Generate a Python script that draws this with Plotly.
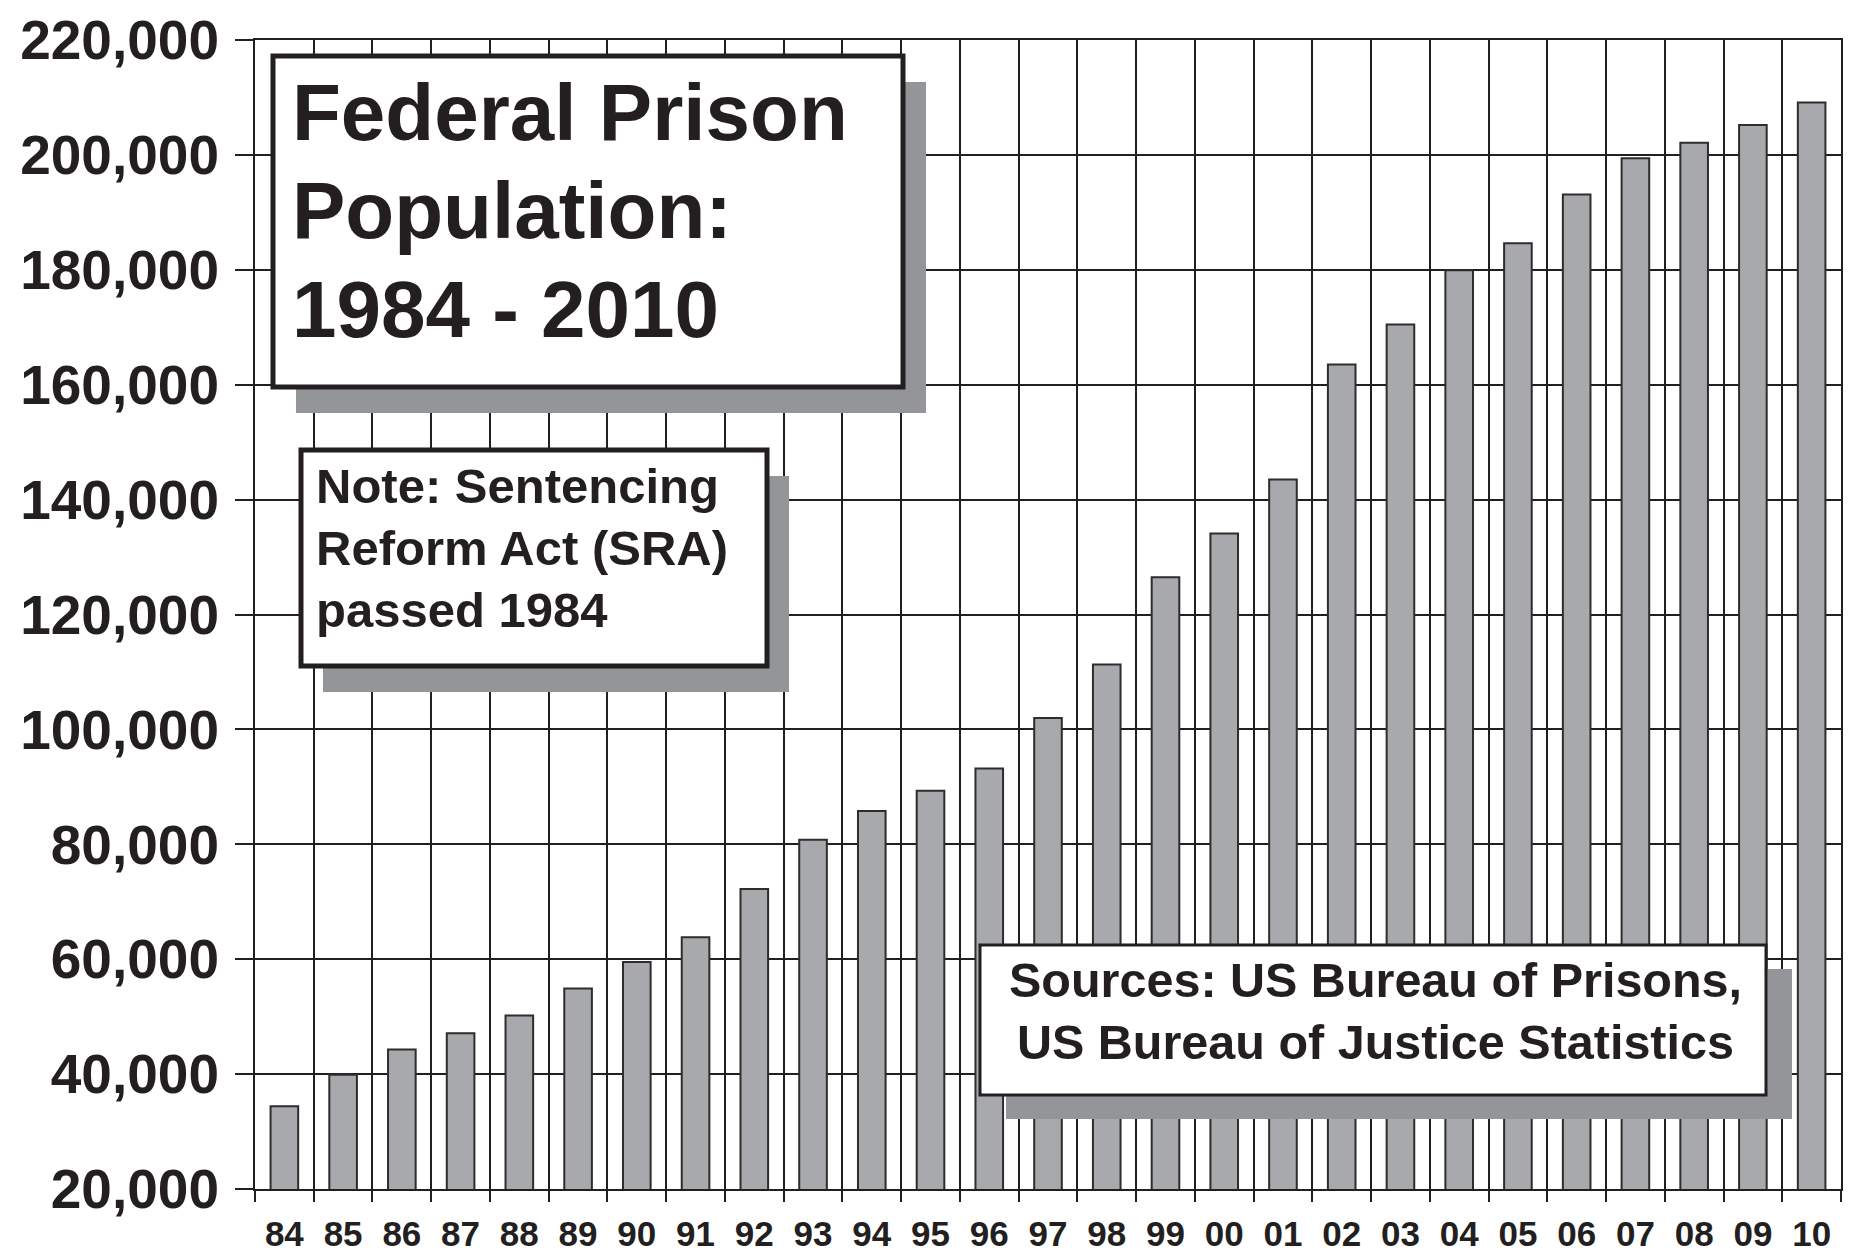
import plotly.graph_objects as go

# Federal prison population by year
years = ["84", "85", "86", "87", "88", "89", "90", "91", "92", "93", "94", "95", "96", "97",
         "98", "99", "00", "01", "02", "03", "04", "05", "06", "07", "08", "09", "10"]
population = [34400, 39900, 44300, 47100, 50200, 54900, 59500, 63800, 72200, 80800, 85800,
              89300, 93200, 102000, 111300, 126500, 134100, 143500, 163500, 170500, 179900,
              184600, 193100, 199400, 202100, 205200, 209100]
y_ticks = [20000, 40000, 60000, 80000, 100000, 120000, 140000, 160000, 180000, 200000, 220000]

title_lines = ["Federal Prison", "Population:", "1984 - 2010"]
note_lines = ["Note: Sentencing", "Reform Act (SRA)", "passed 1984"]
source_lines = ["Sources: US Bureau of Prisons,", "US Bureau of Justice Statistics"]

# page body has an 8px margin, so the figure is drawn 8px in from the corner
PAGE = 8
W, H = 1856 - PAGE, 1255 - PAGE
# plot area in screenshot pixels
L, R, T, B = 255, 1841, 40, 1189
INK = "#231f20"
SHADOW = "#939598"
FONT = "Liberation Sans, Arial, sans-serif"


def px(x):
    return (x - L) / (R - L)


def py(y):
    return (B - y) / (B - T)


fig = go.Figure()
fig.add_trace(go.Bar(
    x=years,
    y=population,
    marker=dict(color="#a8a9ad", line=dict(color="#2e2c2d", width=2)),
))


def box(x0, y0, x1, y1, dx, dy, border):
    # drop shadow first, then the white framed box on top
    fig.add_shape(type="rect", xref="paper", yref="paper", layer="above",
                  x0=px(x0 + dx), x1=px(x1 + dx), y0=py(y0 + dy), y1=py(y1 + dy),
                  fillcolor=SHADOW, line=dict(width=0))
    fig.add_shape(type="rect", xref="paper", yref="paper", layer="above",
                  x0=px(x0), x1=px(x1), y0=py(y0), y1=py(y1),
                  fillcolor="white", line=dict(color=INK, width=border))


box(273, 56, 903, 387, 23, 26, 5)
box(301, 450, 767, 666, 22, 26, 5)
box(980, 945, 1766, 1095, 26, 24, 3)

for i, line in enumerate(title_lines):
    fig.add_annotation(x=px(290), y=py(113 + i * 98), xref="paper", yref="paper",
                       xanchor="left", yanchor="middle", showarrow=False, text=line,
                       font=dict(family=FONT, size=80, color=INK, weight="bold"))

for i, line in enumerate(note_lines):
    fig.add_annotation(x=px(314), y=py(486 + i * 62), xref="paper", yref="paper",
                       xanchor="left", yanchor="middle", showarrow=False, text=line,
                       font=dict(family=FONT, size=49, color=INK, weight="bold"))

for i, line in enumerate(source_lines):
    fig.add_annotation(x=px(1375), y=py(980 + i * 62), xref="paper", yref="paper",
                       xanchor="center", yanchor="middle", showarrow=False, text=line,
                       font=dict(family=FONT, size=48.5, color=INK, weight="bold"))

fig.update_layout(
    width=W, height=H,
    margin=dict(l=L - PAGE, r=W - (R - PAGE), t=T - PAGE, b=H - (B - PAGE)),
    plot_bgcolor="white",
    paper_bgcolor="white",
    bargap=0.53,
    showlegend=False,
    xaxis=dict(
        type="category",
        tickson="boundaries",
        automargin=False,
        ticks="outside", ticklen=11, tickwidth=2, tickcolor=INK,
        showgrid=True, gridcolor=INK, gridwidth=2,
        showline=True, linecolor=INK, linewidth=2, mirror=True,
        tickfont=dict(family=FONT, size=35, color=INK, weight="bold"),
        ticklabelstandoff=13,
        ticklabeloverflow="allow",
    ),
    yaxis=dict(
        range=[20000, 220000],
        tickvals=y_ticks,
        tickformat=",d",
        automargin=False,
        ticks="outside", ticklen=18, tickwidth=2, tickcolor=INK,
        showgrid=True, gridcolor=INK, gridwidth=2,
        showline=True, linecolor=INK, linewidth=2, mirror=True,
        zeroline=False,
        tickfont=dict(family=FONT, size=55, color=INK, weight="bold"),
        ticklabelstandoff=5,
        ticklabeloverflow="allow",
    ),
)

fig.write_html("out.html")
